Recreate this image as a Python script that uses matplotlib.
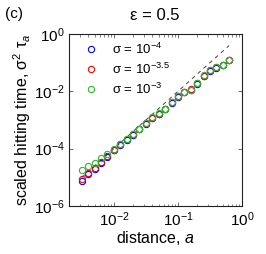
import numpy as np
import matplotlib
matplotlib.use("Agg")
import matplotlib.pyplot as plt
from matplotlib.ticker import LogLocator, FixedLocator, NullFormatter

plt.rcParams['font.family'] = ['Liberation Sans', 'DejaVu Sans']
plt.rcParams['mathtext.fontset'] = 'custom'
plt.rcParams['mathtext.rm'] = 'Liberation Sans'
plt.rcParams['mathtext.it'] = 'Liberation Sans:italic'
plt.rcParams['mathtext.sf'] = 'Liberation Sans'

# distance a (log10 values)
log_a = [-2.5, -2.4, -2.3, -2.2, -2.1, -2.0, -1.9, -1.8, -1.7, -1.6, -1.5, -1.4,
         -1.3, -1.2, -1.1, -1.0, -0.9, -0.8, -0.7, -0.6, -0.5, -0.4, -0.3, -0.2]
a = [10 ** v for v in log_a]

# log10 of scaled hitting time for each sigma
log_t_s4 = [-5.12, -4.89, -4.70, -4.51, -4.30, -4.05, -3.87, -3.69, -3.51, -3.33, -3.13, -2.93,
            -2.79, -2.63, -2.39, -2.19, -2.04, -1.95, -1.73, -1.46, -1.28, -1.17, -1.09, -0.91]
log_t_s35 = [-5.06, -4.85, -4.67, -4.48, -4.27, -4.03, -3.85, -3.68, -3.50, -3.32, -3.12, -2.92,
             -2.78, -2.62, -2.38, -2.18, -2.03, -1.93, -1.72, -1.45, -1.27, -1.16, -1.08, -0.90]
log_t_s3 = [-4.75, -4.61, -4.49, -4.33, -4.17, -4.01, -3.84, -3.67, -3.49, -3.31, -3.11, -2.91,
            -2.77, -2.61, -2.37, -2.17, -2.02, -1.94, -1.71, -1.44, -1.26, -1.15, -1.07, -0.89]

labels = ['σ = 10$^{-4}$', 'σ = 10$^{-3.5}$', 'σ = 10$^{-3}$']
colors = ['#0000ff', '#ff0000', '#2db82d']

fig = plt.figure(figsize=(2.66, 2.54), dpi=100)
ax = fig.add_axes([69 / 266, 1 - 206 / 254, 173 / 266, 172 / 254])

# reference line tau ~ a^2
ref_x = np.array([a[0], a[-1]])
ax.plot(ref_x, ref_x ** 2, linestyle=(0, (4, 4)), color='#444444', lw=0.7, zorder=1)

for lt, lab, c in zip([log_t_s4, log_t_s35, log_t_s3], labels, colors):
    ax.plot(a, [10 ** v for v in lt], 'o', mfc='none', mec=c, ms=4.5, mew=0.8,
            label=lab, zorder=2)

ax.set_xscale('log')
ax.set_yscale('log')
ax.set_xlim(10 ** -2.7, 1)
ax.set_ylim(1e-6, 1)

ax.xaxis.set_major_locator(FixedLocator([1e-2, 1e-1, 1e0]))
ax.xaxis.set_minor_locator(LogLocator(base=10, subs=np.arange(2, 10), numticks=20))
ax.xaxis.set_minor_formatter(NullFormatter())
ax.yaxis.set_major_locator(FixedLocator([1e-6, 1e-4, 1e-2, 1e0]))
ax.yaxis.set_minor_locator(FixedLocator([]))

ax.tick_params(which='both', direction='in', top=True, right=True, labelsize=11,
               color='#555555', pad=3)
ax.tick_params(which='major', length=3, width=0.6)
ax.tick_params(which='minor', length=1.8, width=0.5)
for s in ax.spines.values():
    s.set_linewidth(0.8)
    s.set_color('#222222')

ax.set_xlabel('distance, $a$', fontsize=11.5, labelpad=0)
ax.set_ylabel('scaled hitting time, σ$^2$ τ$_{a}$', fontsize=11.5, labelpad=1)

fig.text(155 / 266, 1 - 15 / 254, 'ε = 0.5', ha='center', va='center', fontsize=12)
fig.text(14 / 266, 1 - 14 / 254, '(c)', ha='center', va='center', fontsize=11)

leg = ax.legend(loc='upper left', frameon=False, fontsize=9.5, handletextpad=0.8,
                labelspacing=0.35, borderaxespad=0.2, handlelength=1.6,
                bbox_to_anchor=(0.02, 1.0))

fig.savefig('out.png', dpi=100)
